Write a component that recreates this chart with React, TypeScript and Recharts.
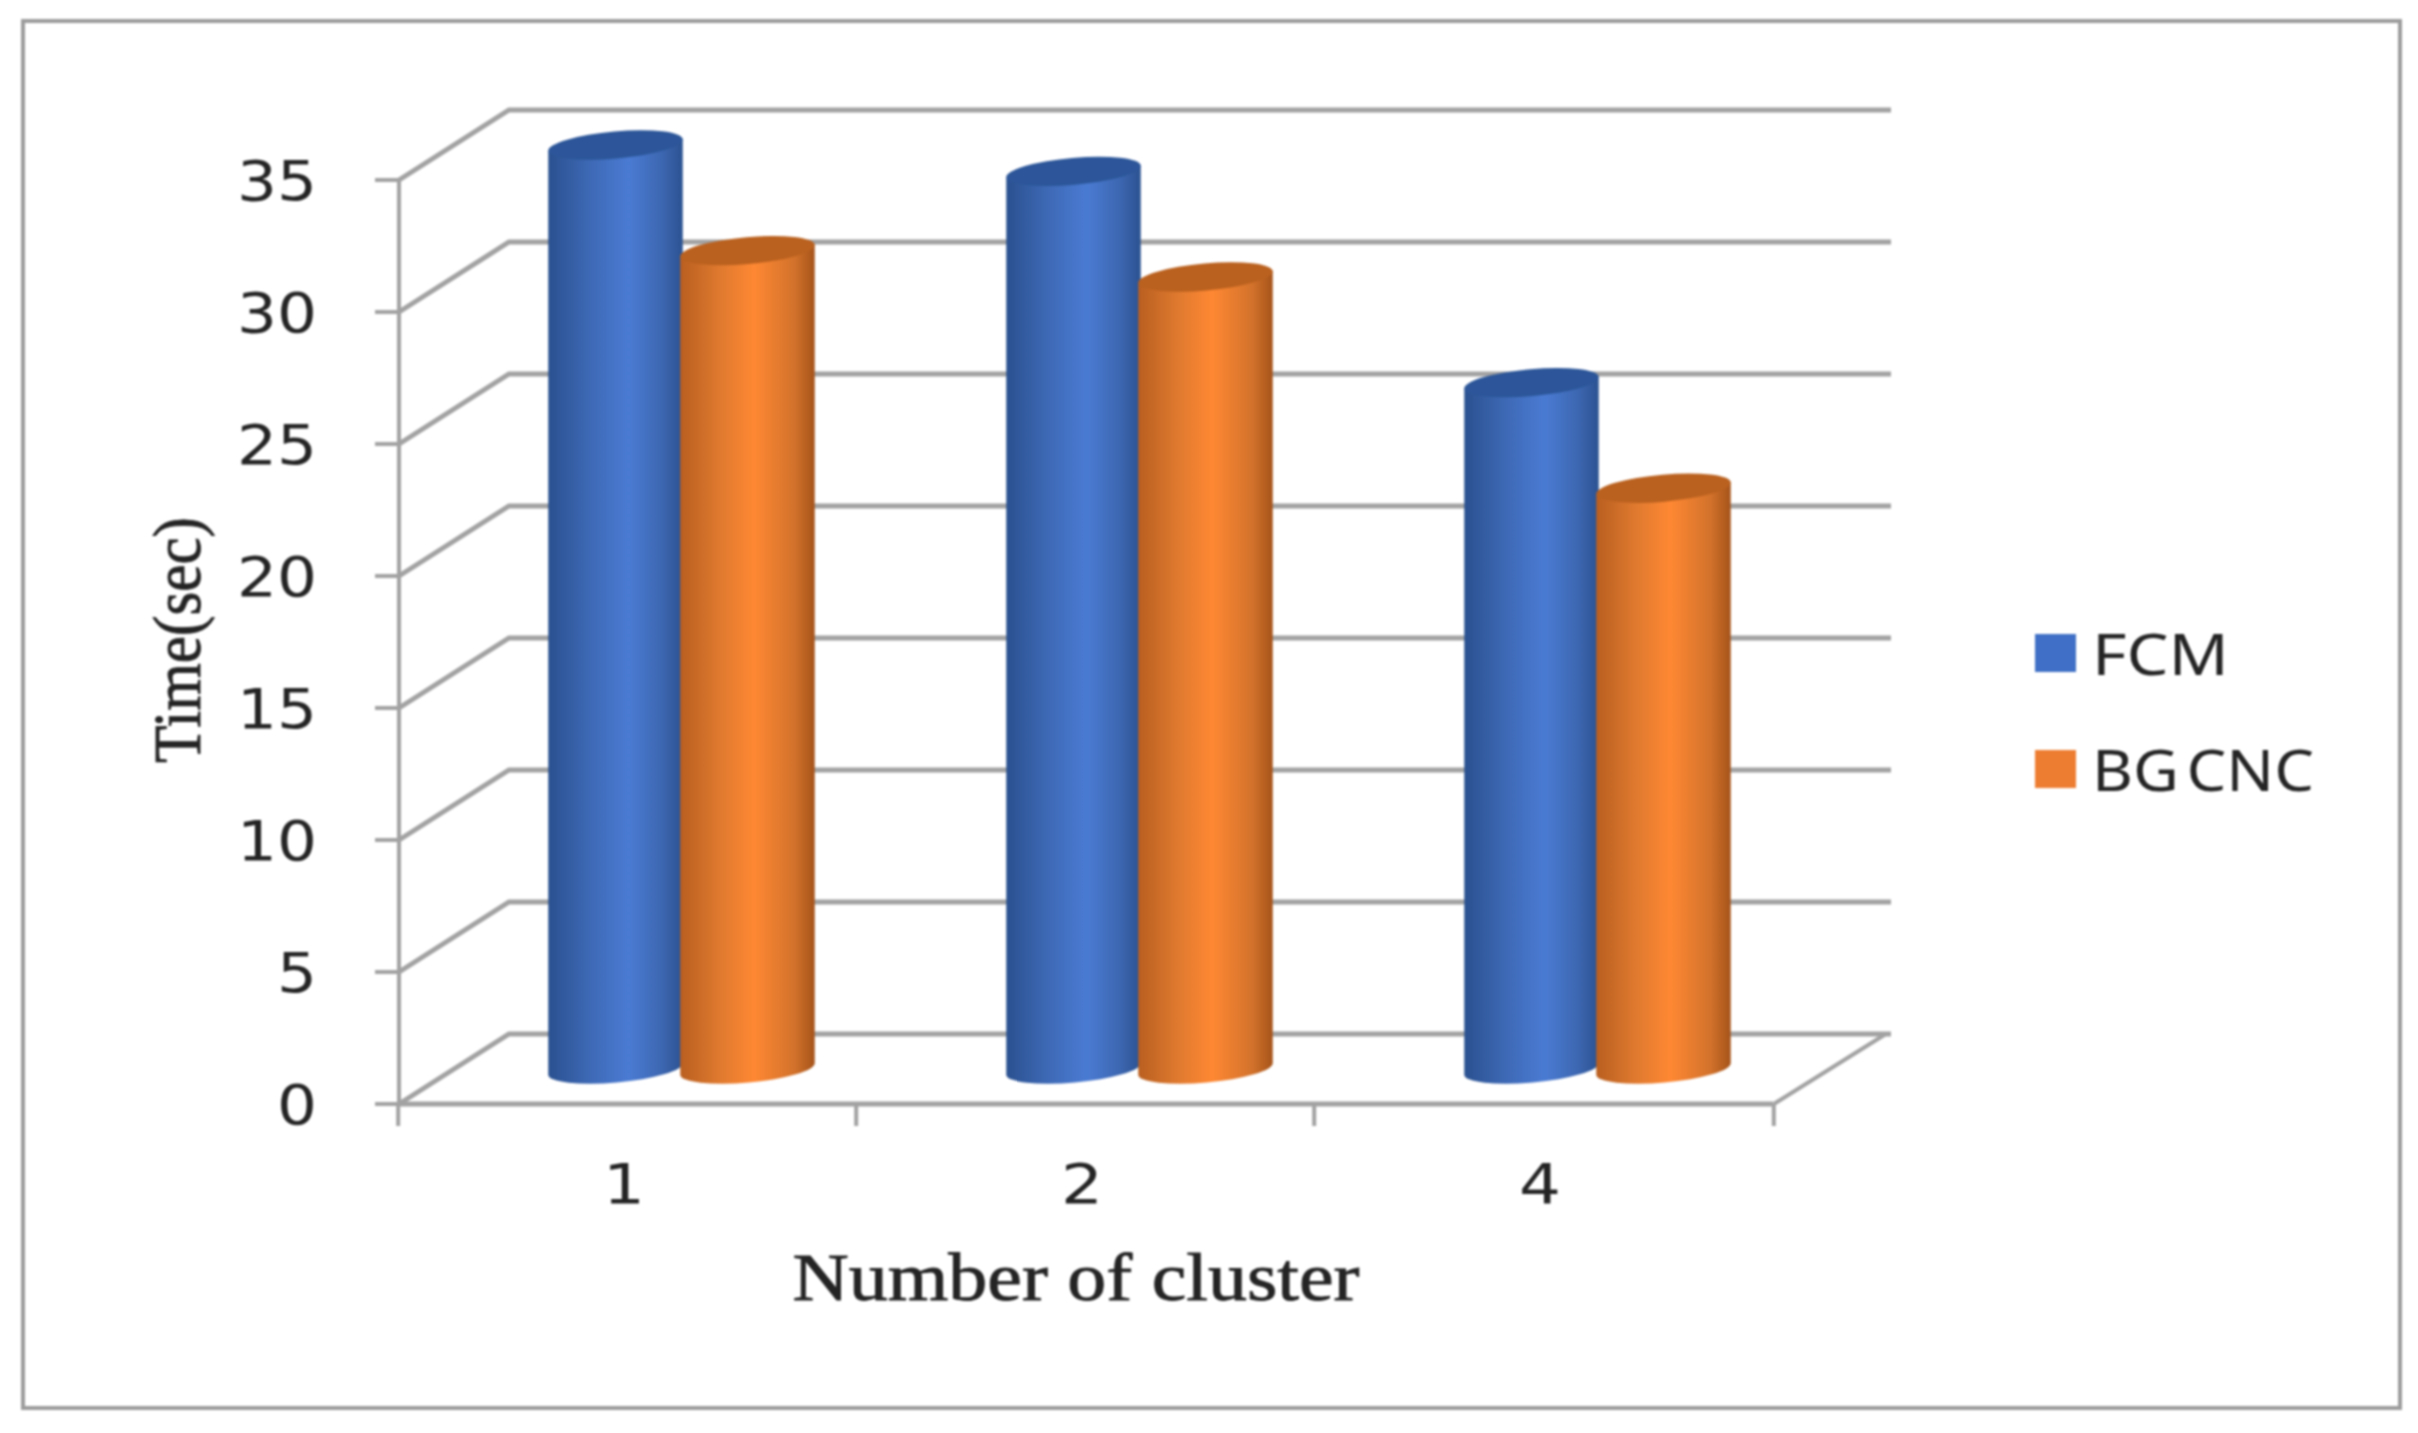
import React from "react";
import { BarChart, Bar, XAxis, YAxis, CartesianGrid, Legend, Label } from "recharts";

const categories = ["1", "2", "4"];
const fcmValues = [35, 34, 26];
const bgCncValues = [31, 30, 22];
const yTicks = [0, 5, 10, 15, 20, 25, 30, 35];
const seriesNames = ["FCM", "BG CNC"];
const legendLengths = [137, 222];
const swatchColors = ["#3f6fc6", "#ed7d31"];

const rows = categories.map((c, i) => ({ cat: c, fcm: fcmValues[i], bg: bgCncValues[i] }));

const LINE = "#a2a2a2";
const INK = "#242424";
const DEPTH_X = 110;
const DEPTH_Y = -70;
const BAR_DX = 53;
const BAR_DY = -35;
const SANS = "'DejaVu Sans', sans-serif";
const SERIF = "'Liberation Serif', serif";

function Cylinder(props: any) {
  const { x, y, width, height, gradient, cap } = props;
  if (width == null) return null;
  const rx = width / 2;
  const ry = 13.5;
  const rot = -5;
  const t = (rot * Math.PI) / 180;
  const cx = x + BAR_DX + rx;
  const top = y + BAR_DY;
  const bottom = y + height + BAR_DY;
  const ex = rx * Math.cos(t);
  const ey = rx * Math.sin(t);
  const d = `M${cx - ex} ${top - ey} L${cx - ex} ${bottom - ey} A${rx} ${ry} ${rot} 0 0 ${cx + ex} ${bottom + ey} L${cx + ex} ${top + ey} Z`;
  return (
    <g>
      <path d={d} fill={`url(#${gradient})`} />
      <ellipse cx={cx} cy={top} rx={rx} ry={ry} fill={cap} transform={`rotate(${rot} ${cx} ${top})`} />
    </g>
  );
}

function GridLine(props: any) {
  const { x1, x2, y1 } = props;
  return (
    <g stroke={LINE} strokeWidth={5} fill="none">
      <polyline points={`${x1},${y1} ${x1 + DEPTH_X},${y1 + DEPTH_Y} ${x2 + DEPTH_X + 8},${y1 + DEPTH_Y}`} />
    </g>
  );
}

function YTick(props: any) {
  const { x, y, payload } = props;
  const s = String(payload.value);
  return (
    <text x={x - 32} y={y} dx={-24} textAnchor="end" dominantBaseline="central" fontFamily={SANS} fontSize={56} fill={INK}
      textLength={s.length * 40} lengthAdjust="spacingAndGlyphs">{s}</text>
  );
}

function XTick(props: any) {
  const { x, payload, index, visibleTicksCount } = props;
  const band = 459.6;
  const tickY = 1104;
  const last = index === (visibleTicksCount ?? 3) - 1;
  return (
    <g>
      <line x1={x - band / 2} x2={x - band / 2} y1={tickY} y2={tickY + 22} stroke={LINE} strokeWidth={4} />
      {last && <line x1={x + band / 2} x2={x + band / 2} y1={tickY} y2={tickY + 22} stroke={LINE} strokeWidth={4} />}
      {last && <line x1={x + band / 2} x2={x + band / 2 + DEPTH_X + 2} y1={tickY} y2={tickY + DEPTH_Y} stroke={LINE} strokeWidth={4} />}
      <text x={x - 4} y={1183} textAnchor="middle" dominantBaseline="central" fontFamily={SANS} fontSize={56} fill={INK}
        textLength={42} lengthAdjust="spacingAndGlyphs">{payload.value}</text>
    </g>
  );
}

function LegendBox() {
  return (
    <svg width={340} height={190} style={{ display: "block", overflow: "visible" }}>
      {seriesNames.map((n, i) => (
        <g key={n}>
          <rect x={1} y={4 + i * 116} width={41} height={38} fill={swatchColors[i]} />
          <text x={58} y={23 + i * 116} dominantBaseline="central" fontFamily="'Noto Sans', sans-serif" fontSize={57} fill={INK} wordSpacing={-8}
            textLength={legendLengths[i]} lengthAdjust="spacingAndGlyphs">{n}</text>
        </g>
      ))}
    </svg>
  );
}

export default function App() {
  return (
    <div style={{ position: "absolute", left: 0, top: 0, width: 2418, height: 1433, background: "#fff", overflow: "hidden", filter: "blur(1.2px)" }}>
      <div style={{ position: "absolute", left: 21, top: 19, width: 2373, height: 1383, border: "4px solid #9c9c9c" }} />
      <div style={{ position: "absolute", left: 0, top: 0 }}>
        <BarChart width={2418} height={1433} data={rows} barSize={135} barGap={-3}
          margin={{ left: 249, top: 180, bottom: 229, right: 305 }}>
          <defs>
            <linearGradient id="gradFcm" x1="0" x2="1" y1="0" y2="0">
              <stop offset="0" stopColor="#2a5190" />
              <stop offset="0.3" stopColor="#3d68b4" />
              <stop offset="0.6" stopColor="#4a7bd3" />
              <stop offset="0.85" stopColor="#3c66b0" />
              <stop offset="1" stopColor="#2b5291" />
            </linearGradient>
            <linearGradient id="gradBg" x1="0" x2="1" y1="0" y2="0">
              <stop offset="0" stopColor="#b95f20" />
              <stop offset="0.3" stopColor="#e07a2f" />
              <stop offset="0.55" stopColor="#ff8833" />
              <stop offset="0.85" stopColor="#d2722b" />
              <stop offset="1" stopColor="#a5531a" />
            </linearGradient>
          </defs>
          <CartesianGrid vertical={false} horizontal={(p: any) => <GridLine {...p} />} />
          <XAxis dataKey="cat" height={100} axisLine={{ stroke: LINE, strokeWidth: 5 }} tickLine={false} tick={(p: any) => <XTick {...p} />} interval={0}>
            <Label content={() => (
              <text x={1076} y={1277} textAnchor="middle" dominantBaseline="central" fontFamily={SERIF} fontSize={68} fill={INK} stroke={INK} strokeWidth={0.9}
                textLength={567} lengthAdjust="spacingAndGlyphs">Number of cluster</text>
            )} />
          </XAxis>
          <YAxis width={150} domain={[0, 35]} ticks={yTicks} interval={0} tickSize={24} axisLine={{ stroke: LINE, strokeWidth: 4 }}
            tickLine={{ stroke: LINE, strokeWidth: 4 }} tick={(p: any) => <YTick {...p} />}>
            <Label content={() => (
              <text x={177} y={640} textAnchor="middle" dominantBaseline="central" transform="rotate(-90 177 640)" fontFamily={SERIF} fontSize={68} fill={INK} stroke={INK} strokeWidth={0.9}
                textLength={246} lengthAdjust="spacingAndGlyphs">Time(sec)</text>
            )} />
          </YAxis>
          <Legend layout="vertical" align="right" verticalAlign="middle" width={340} height={190} content={() => <LegendBox />}
            wrapperStyle={{ position: "absolute", left: 2034, top: 630, right: "auto", bottom: "auto" }} />
          <Bar dataKey="fcm" name={seriesNames[0]} fill={swatchColors[0]} isAnimationActive={false}
            shape={(p: any) => <Cylinder {...p} gradient="gradFcm" cap="#2c5699" />} />
          <Bar dataKey="bg" name={seriesNames[1]} fill={swatchColors[1]} isAnimationActive={false}
            shape={(p: any) => <Cylinder {...p} gradient="gradBg" cap="#ba611f" />} />
        </BarChart>
      </div>
    </div>
  );
}
